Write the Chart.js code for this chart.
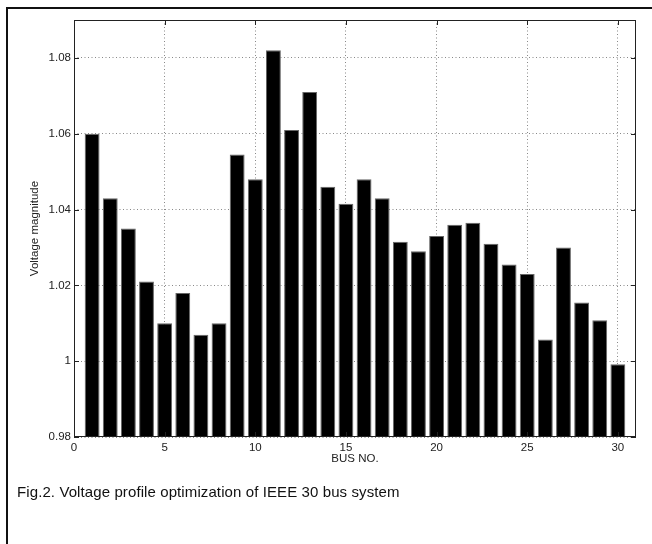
<!DOCTYPE html>
<html>
<head>
<meta charset="utf-8">
<script src="https://cdn.jsdelivr.net/npm/chart.js@4.4.1/dist/chart.umd.min.js"></script>
<style>
html, body { margin: 0; padding: 0; background: #fff; }
#wrap { position: relative; width: 652px; height: 544px; overflow: hidden; }
#frame { position: absolute; left: 6px; top: 7px; width: 700px; height: 600px;
         border-left: 2px solid #111; border-top: 2px solid #111; }
#caption { position: absolute; left: 17px; top: 484px; white-space: nowrap; color: #111;
           font: 15px "Liberation Sans", Arial, sans-serif; line-height: 15px; letter-spacing: 0.1px; }
canvas { position: absolute; left: 0; top: 0; }
</style>
</head>
<body>
<div id="wrap">
  <div id="frame"></div>
  <canvas id="c" width="652" height="544"></canvas>
  <div id="caption">Fig.2. Voltage profile optimization of IEEE 30 bus system</div>
</div>
<script>
// numéros de bus et tension (p.u.)
const busNumbers = [1, 2, 3, 4, 5, 6, 7, 8, 9, 10,
                    11, 12, 13, 14, 15, 16, 17, 18, 19, 20,
                    21, 22, 23, 24, 25, 26, 27, 28, 29, 30];
const voltage = [1.060, 1.043, 1.035, 1.021, 1.010, 1.018, 1.007, 1.010, 1.0545, 1.048,
                 1.082, 1.061, 1.071, 1.046, 1.0415, 1.048, 1.043, 1.0315, 1.029, 1.033,
                 1.036, 1.0365, 1.031, 1.0255, 1.023, 1.0057, 1.030, 1.0155, 1.0108, 0.9992];
const xTicks = [0, 5, 10, 15, 20, 25, 30];
const yTicks = [0.98, 1.00, 1.02, 1.04, 1.06, 1.08];

Chart.defaults.font.family = '"Liberation Sans", Arial, sans-serif';
Chart.defaults.font.size = 11.5;
Chart.defaults.color = '#222';

// cadre de l'axe + petites graduations vers l'intérieur (style MATLAB)
const matlabBox = {
    id: 'matlabBox',
    afterDatasetsDraw(chart) {
        const { ctx, chartArea: a, scales: { x, y } } = chart;
        ctx.save();
        ctx.strokeStyle = '#222';
        ctx.lineWidth = 1;
        ctx.beginPath();
        x.ticks.forEach(t => {
            const px = Math.round(x.getPixelForValue(t.value)) + 0.5;
            ctx.moveTo(px, a.bottom); ctx.lineTo(px, a.bottom - 5);
            ctx.moveTo(px, a.top); ctx.lineTo(px, a.top + 5);
        });
        y.ticks.forEach(t => {
            const py = Math.round(y.getPixelForValue(t.value)) + 0.5;
            ctx.moveTo(a.left, py); ctx.lineTo(a.left + 5, py);
            ctx.moveTo(a.right, py); ctx.lineTo(a.right - 5, py);
        });
        ctx.stroke();
        ctx.strokeRect(Math.round(a.left) + 0.5, Math.round(a.top) + 0.5,
                       Math.round(a.width) - 1, Math.round(a.height) - 1);
        ctx.restore();
    }
};

new Chart(document.getElementById('c'), {
    type: 'bar',
    data: {
        datasets: [{
            data: busNumbers.map((b, i) => ({ x: b, y: voltage[i] })),
            backgroundColor: '#000',
            borderColor: '#666',
            borderWidth: 1,
            barPercentage: 0.82,
            categoryPercentage: 1,
            base: 0.98
        }]
    },
    options: {
        responsive: false,
        animation: false,
        layout: { padding: { left: 22, top: 20, right: 16, bottom: 77 } },
        plugins: { legend: { display: false }, tooltip: { enabled: false } },
        scales: {
            x: {
                type: 'linear',
                offset: false,
                min: 0,
                max: 31,
                afterBuildTicks: s => { s.ticks = xTicks.map(v => ({ value: v })); },
                afterFit: s => { s.height = 30; },
                ticks: { padding: 4, maxRotation: 0 },
                grid: { color: '#888', offset: false, drawTicks: false },
                border: { display: false, dash: [1, 2.5] },
                title: { display: true, text: 'BUS NO.', padding: { top: 0, bottom: 1 } }
            },
            y: {
                min: 0.98,
                max: 1.09,
                afterBuildTicks: s => { s.ticks = yTicks.map(v => ({ value: v })); },
                afterFit: s => { s.width = 52; },
                ticks: { padding: 3, callback: v => String(+v.toFixed(2)) },
                grid: { color: '#888', drawTicks: false },
                border: { display: false, dash: [1, 2.5] },
                title: { display: true, text: 'Voltage magnitude', padding: { top: 6, bottom: 0 } }
            }
        }
    },
    plugins: [matlabBox]
});
</script>
</body>
</html>
